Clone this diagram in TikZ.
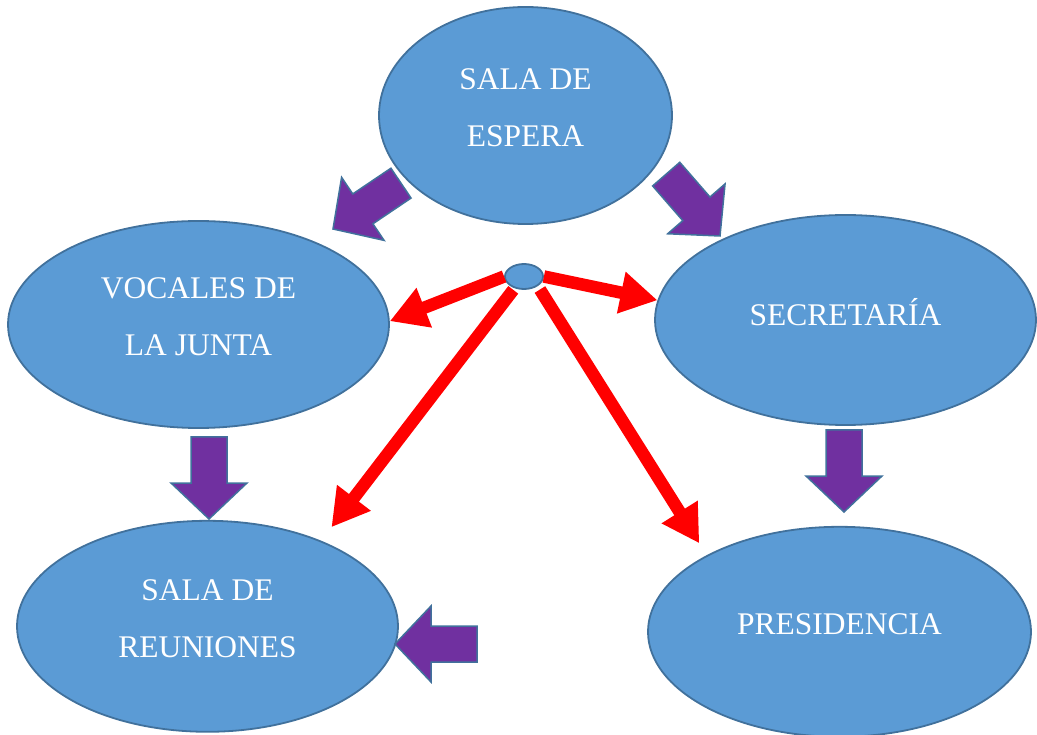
\documentclass[tikz,border=0pt]{standalone}
\usepackage{fontspec}
\setmainfont{Liberation Serif}
\usepackage{tikz}
\usetikzlibrary{arrows.meta,positioning,calc,shapes.geometric}
\usepackage{xcolor}
\definecolor{SalaBlue}{HTML}{5B9BD5}
\definecolor{SalaEdge}{HTML}{41719C}
\definecolor{SalaPurple}{HTML}{7030A0}
\definecolor{SalaRed}{HTML}{FF0000}
\tikzset{
  fatarrow/.pic={\draw[fill=SalaPurple,draw=SalaEdge,line width=1.5pt,line join=miter] (0,0) -- (-36,-38) -- (-36,-18) -- (-82,-18) -- (-82,18) -- (-36,18) -- (-36,38) -- cycle;}
}
\begin{document}
\begin{tikzpicture}[x=1pt,y=-1pt,every node/.style={font=\fontsize{31.5}{57}\selectfont,align=center,text=white},
    room/.style={draw=SalaEdge,fill=SalaBlue,ellipse,line width=1.8pt,inner sep=0pt,text depth=16pt},
    redline/.style={-{Triangle[length=37pt,width=40pt]},line width=12.5pt,SalaRed}]
    \useasboundingbox (0,0) rectangle (1037,735);
    \node[room,minimum width=293pt,minimum height=217pt] (espera) at (525.5,115.5) {SALA DE\\ESPERA};
    \node[room,minimum width=381pt,minimum height=207pt] (vocales) at (198.5,324.5) {VOCALES DE\\LA JUNTA};
    \node[room,minimum width=381pt,minimum height=210pt] (secretaria) at (845.5,320) {SECRETARÍA};
    \node[room,minimum width=381pt,minimum height=211pt,below=91pt of vocales,xshift=9pt] (reuniones) {SALA DE\\REUNIONES};
    \node[room,minimum width=383pt,minimum height=210pt,below=100pt of secretaria,xshift=-6pt] (presidencia) {PRESIDENCIA};
    \node[room,text depth=0pt,minimum width=38pt,minimum height=25pt] (hub) at (524,276.5) {};
    \foreach \s/\t/\a/\b in {hub.west/vocales.1/0pt/0pt,hub.east/secretaria.174/0pt/0pt,hub.231/reuniones.37/2pt/17pt,hub.-35/presidencia.150/4pt/14pt}{\draw[redline,shorten <=\a,shorten >=\b] (\s)--(\t);}
    \foreach \px/\py/\ang in {333/229/-146,720/236/-49,209/519/-90,844/512/-90,395/644/180}{\pic[rotate=\ang] at (\px,\py) {fatarrow};}
\end{tikzpicture}
\end{document}
